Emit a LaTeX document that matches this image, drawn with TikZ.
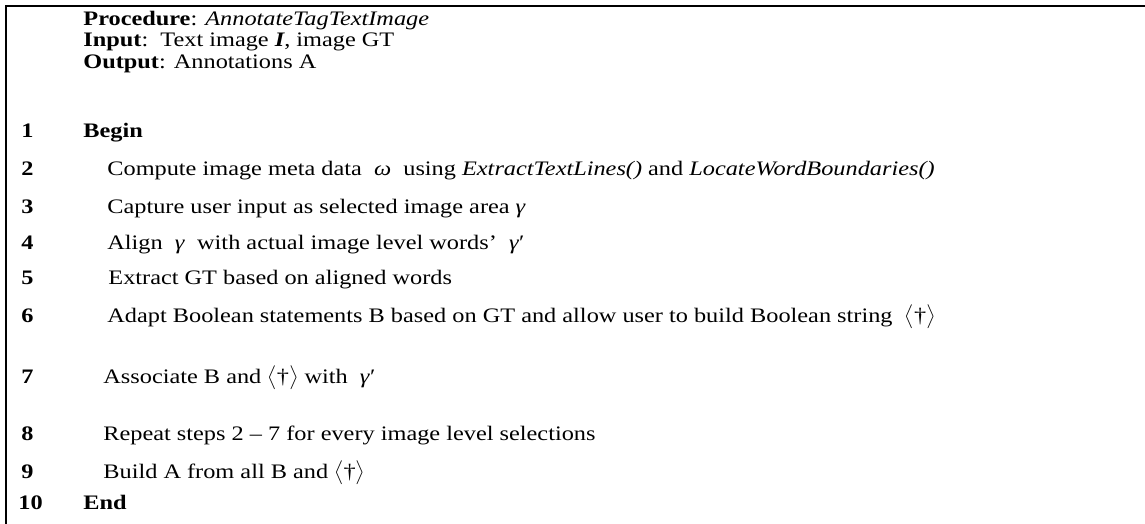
\documentclass[tikz,border=0pt]{standalone}
\usepackage{fontspec}
\setmainfont[FakeStretch=1.18]{Liberation Serif}
\begin{document}
\begin{tikzpicture}[x=0.5pt,y=-0.5pt,
  txt/.style={anchor=base west,inner sep=0pt,font=\fontsize{10.3}{12}\selectfont},
  num/.style={txt,font=\fontsize{10.3}{12}\selectfont\bfseries},
  frame/.style={line width=1.3pt,line cap=rect}]
\useasboundingbox (0,0) rectangle (1145,524);
\coordinate (tl) at (6,6);
\coordinate (tr) at (1145,6);
\coordinate (bl) at (6,524);
\draw[frame] (tr) -- (tl) -- (bl);
\node[txt] (proc) at (83,26) {\textbf{Procedure}: \textit{AnnotateTagTextImage}};
\node[txt] (inp) at (83,47) {\textbf{Input}:\ \ Text image \textit{\textbf{I}}, image GT};
\node[txt] (outp) at (83,69) {\textbf{Output}: Annotations A};
\node[num] (n1) at (21,138) {1};
\node[num] (n2) at (21,176) {2};
\node[num] (n3) at (21,213) {3};
\node[num] (n4) at (21,249) {4};
\node[num] (n5) at (21,284) {5};
\node[num] (n6) at (21,322) {6};
\node[num] (n7) at (21,383) {7};
\node[num] (n8) at (21,440) {8};
\node[num] (n9) at (21,478) {9};
\node[num] (n10) at (18,509) {10};
\node[txt] (l1) at (83,138) {\textbf{Begin}};
\node[txt] (l2) at (107,176) {Compute image meta data\ \ \textit{ω}\ \ using \textit{ExtractTextLines()} and \textit{LocateWordBoundaries()}};
\node[txt] (l3) at (107,213) {Capture user input as selected image area \textit{γ}};
\node[txt] (l4) at (107,249) {Align\ \ \textit{γ}\ \ with actual image level words’\ \ \textit{γ}′};
\node[txt] (l5) at (108,284) {Extract GT based on aligned words};
\node[txt] (l6) at (107,322) {Adapt Boolean statements B based on GT and allow user to build Boolean string\ \ $\bigl\langle$†$\bigr\rangle$};
\node[txt] (l7) at (103,383) {Associate B and $\bigl\langle$†$\bigr\rangle$ with\ \ \textit{γ}′};
\node[txt] (l8) at (103,440) {Repeat steps 2 – 7 for every image level selections};
\node[txt] (l9) at (103,478) {Build A from all B and $\bigl\langle$†$\bigr\rangle$};
\node[txt] (l10) at (83,509) {\textbf{End}};
\end{tikzpicture}
\end{document}
